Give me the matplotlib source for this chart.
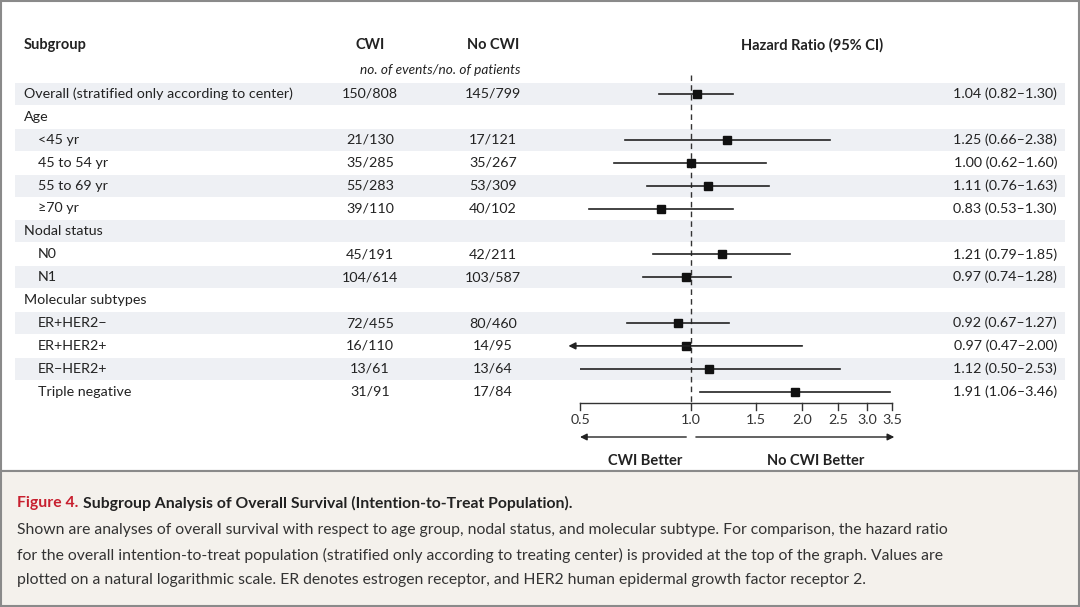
import matplotlib.pyplot as plt
from matplotlib.patches import Rectangle

# forest plot data
labels = ['Overall (stratified only according to center)', 'Age', '<45 yr', '45 to 54 yr',
          '55 to 69 yr', '\u226570 yr', 'Nodal status', 'N0', 'N1', 'Molecular subtypes',
          'ER+HER2\u2212', 'ER+HER2+', 'ER\u2212HER2+', 'Triple negative']
indent = [0, 0, 1, 1, 1, 1, 0, 1, 1, 0, 1, 1, 1, 1]
cwi = ['150/808', '', '21/130', '35/285', '55/283', '39/110', '', '45/191', '104/614', '',
       '72/455', '16/110', '13/61', '31/91']
no_cwi = ['145/799', '', '17/121', '35/267', '53/309', '40/102', '', '42/211', '103/587', '',
          '80/460', '14/95', '13/64', '17/84']
hr = [1.04, None, 1.25, 1.00, 1.11, 0.83, None, 1.21, 0.97, None, 0.92, 0.97, 1.12, 1.91]
lo = [0.82, None, 0.66, 0.62, 0.76, 0.53, None, 0.79, 0.74, None, 0.67, 0.47, 0.50, 1.06]
hi = [1.30, None, 2.38, 1.60, 1.63, 1.30, None, 1.85, 1.28, None, 1.27, 2.00, 2.53, 3.46]
ticks = [0.5, 1.0, 1.5, 2.0, 2.5, 3.0, 3.5]

plt.rcParams['font.family'] = ['Lato', 'DejaVu Sans']
W, H = 1080, 607
fig = plt.figure(figsize=(10.8, 6.07), dpi=100)
bg = fig.add_axes([0, 0, 1, 1])
bg.set_xlim(0, W)
bg.set_ylim(H, 0)
bg.axis('off')

# frames
bg.add_patch(Rectangle((1, 1), W - 2, 470, fc='white', ec='#8a8a8a', lw=1.5))
bg.add_patch(Rectangle((1, 471), W - 2, H - 472, fc='#f4f1ec', ec='#8a8a8a', lw=1.5))

y0, dy = 94, 22.9
rows = [y0 + dy * i for i in range(len(labels))]
fs = 10.3
for i, y in enumerate(rows):
    if i % 2 == 0:
        bg.add_patch(Rectangle((15, y - 11), 1050, 22, fc='#eef0f4', ec='none'))
    bg.text(24 + 14 * indent[i], y, labels[i], va='center', fontsize=fs, color='#222')
    bg.text(370, y, cwi[i], va='center', ha='center', fontsize=fs, color='#222')
    bg.text(493, y, no_cwi[i], va='center', ha='center', fontsize=fs, color='#222')
    if hr[i] is not None:
        bg.text(1057, y, f'{hr[i]:.2f} ({lo[i]:.2f}\u2013{hi[i]:.2f})', va='center',
                ha='right', fontsize=fs, color='#222')

# headers
bg.text(24, 45, 'Subgroup', va='center', fontsize=10.5, weight='bold', color='#222')
bg.text(370, 45, 'CWI', va='center', ha='center', fontsize=10.5, weight='bold', color='#222')
bg.text(493, 45, 'No CWI', va='center', ha='center', fontsize=10.5, weight='bold', color='#222')
bg.text(812, 45, 'Hazard Ratio (95% CI)', va='center', ha='center', fontsize=10.5,
        weight='bold', color='#222')
bg.text(440, 70, 'no. of events/no. of patients', va='center', ha='center', fontsize=9.8,
        style='italic', color='#222')

# forest axes on log scale
x0, x1 = 580, 892
ax = fig.add_axes([x0 / W, 0, (x1 - x0) / W, 1])
ax.patch.set_alpha(0)
ax.set_xscale('log')
ax.set_xlim(0.5, 3.5)
ax.set_ylim(H, 0)
for s in ax.spines.values():
    s.set_visible(False)
ax.set_yticks([])
ax.set_xticks([])
ax.set_xticks([], minor=True)

ax.plot([1, 1], [75, 402], ls=(0, (4, 3)), color='#333', lw=1)
for i, y in enumerate(rows):
    if hr[i] is None:
        continue
    if lo[i] < 0.5:
        ax.annotate('', xy=(0.465, y), xytext=(hi[i], y), annotation_clip=False,
                    arrowprops=dict(arrowstyle='-|>', color='#222', lw=1.2,
                                    mutation_scale=10, shrinkA=0, shrinkB=0))
    else:
        ax.plot([lo[i], hi[i]], [y, y], color='#222', lw=1.2)
    ax.plot(hr[i], y, 's', color='#111', ms=6)

# x axis drawn by hand at y=403
ya = 403
ax.plot([0.5, 3.5], [ya, ya], color='#333', lw=1, clip_on=False)
for t in ticks:
    ax.plot([t, t], [ya, ya + 7], color='#333', lw=1, clip_on=False)
    ax.text(t, 420, f'{t:.1f}', ha='center', va='center', fontsize=10.3, color='#333')
ax.annotate('', xy=(0.5, 437), xytext=(0.97, 437), annotation_clip=False,
            arrowprops=dict(arrowstyle='-|>', color='#222', lw=1, mutation_scale=10,
                            shrinkA=0, shrinkB=0))
ax.annotate('', xy=(3.55, 437), xytext=(1.03, 437), annotation_clip=False,
            arrowprops=dict(arrowstyle='-|>', color='#222', lw=1, mutation_scale=10,
                            shrinkA=0, shrinkB=0))
bg.text(645, 461, 'CWI Better', ha='center', va='center', fontsize=10.5, weight='bold', color='#222')
bg.text(816, 461, 'No CWI Better', ha='center', va='center', fontsize=10.5, weight='bold', color='#222')

# caption
t = bg.text(17, 503, 'Figure 4.', va='center', fontsize=11.3, weight='bold', color='#c8202f')
bg.annotate('Subgroup Analysis of Overall Survival (Intention-to-Treat Population).',
            xy=(1, 0.5), xycoords=t, xytext=(3, 0), textcoords='offset points',
            va='center', fontsize=11.3, weight='bold', color='#222')
caption = ['Shown are analyses of overall survival with respect to age group, nodal status, and molecular subtype. For comparison, the hazard ratio',
           'for the overall intention-to-treat population (stratified only according to treating center) is provided at the top of the graph. Values are',
           'plotted on a natural logarithmic scale. ER denotes estrogen receptor, and HER2 human epidermal growth factor receptor 2.']
for k, line in enumerate(caption):
    bg.text(17, 530 + 25 * k, line, va='center', fontsize=11.3, color='#333')

fig.savefig('out.png', dpi=100)
